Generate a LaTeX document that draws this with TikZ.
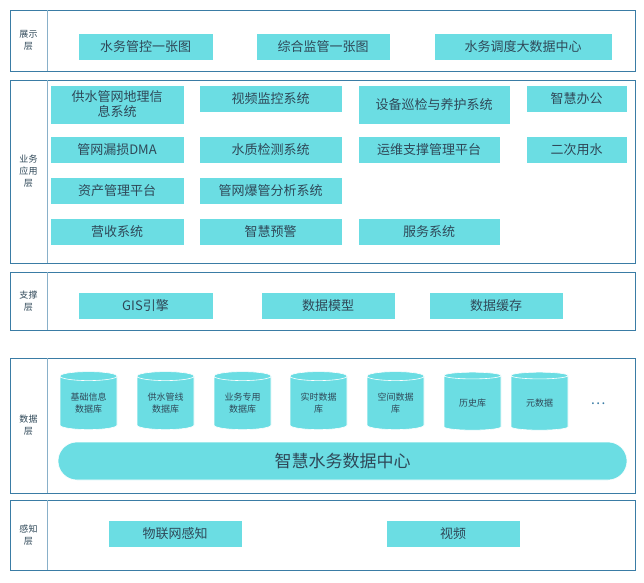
\documentclass[tikz,border=0pt]{standalone}
\usepackage{fontspec}
\newfontfamily\cjk{Noto Sans CJK SC}
\usetikzlibrary{shapes.geometric}
\definecolor{fillc}{HTML}{6BDDE3}
\definecolor{edgec}{HTML}{3A7CA5}
\definecolor{txt}{HTML}{2F4858}
\tikzset{x=1pt,y=-1pt,
 layer/.style={draw=edgec,line width=0.8pt},
 box/.style={fill=fillc,draw=white,line width=0.6pt,text=txt,font=\cjk\fontsize{13}{15}\selectfont,align=center,inner sep=0pt},
 lab/.style={text=txt,font=\cjk\fontsize{9}{12}\selectfont,align=center},
 cyl/.style={cylinder,shape border rotate=90,aspect=0.25,fill=fillc,draw=white,line width=0.6pt,minimum width=57pt,minimum height=58pt,text=txt,font=\cjk\fontsize{9}{12}\selectfont,align=center,inner sep=0pt}}
\newcommand{\bx}[6]{\node[box,minimum width=#4-#2,minimum height=#5-#3] (#1) at ({(#2+#4)/2},{(#3+#5)/2}) {#6};}
\newcommand{\layer}[5]{\draw[layer] (10,#2) rectangle (635,#3); \draw[edgec!60,line width=0.8pt] (47,#2)--(47,#3); \node[lab] (#1) at (28.5,{(#2+#3)/2}) {#4};}
\begin{document}
\begin{tikzpicture}
\useasboundingbox[fill=white] (0,0) rectangle (644,582);
\layer{l1}{10}{71}{展示\\层}{}
\layer{l2}{80}{263}{业务\\应用\\层}{}
\layer{l3}{272}{330}{支撑\\层}{}
\layer{l4}{358}{493}{数据\\层}{}
\layer{l5}{500}{570}{感知\\层}{}
\bx{a1}{78}{33}{213}{60}{水务管控一张图}
\bx{a2}{256}{33}{390}{60}{综合监管一张图}
\bx{a3}{434}{33}{612}{60}{水务调度大数据中心}
\bx{b1}{50}{85}{184}{124}{供水管网地理信\\息系统}
\bx{b2}{199}{85}{342}{112}{视频监控系统}
\bx{b3}{358}{85}{510}{124}{设备巡检与养护系统}
\bx{b4}{526}{85}{627}{112}{智慧办公}
\bx{b5}{50}{136}{184}{163}{管网漏损DMA}
\bx{b6}{199}{136}{342}{163}{水质检测系统}
\bx{b7}{358}{136}{500}{163}{运维支撑管理平台}
\bx{b8}{526}{136}{627}{163}{二次用水}
\bx{b9}{50}{177}{184}{204}{资产管理平台}
\bx{b10}{199}{177}{342}{204}{管网爆管分析系统}
\bx{b11}{50}{218}{184}{245}{营收系统}
\bx{b12}{199}{218}{342}{245}{智慧预警}
\bx{b13}{358}{218}{500}{245}{服务系统}
\bx{c1}{78}{292}{213}{319}{GIS引擎}
\bx{c2}{261}{292}{395}{319}{数据模型}
\bx{c3}{429}{292}{563}{319}{数据缓存}
\node[cyl] (d1) at (88.5,403) {基础信息\\数据库};
\node[cyl] (d2) at (165.5,403) {供水管线\\数据库};
\node[cyl] (d3) at (242.5,403) {业务专用\\数据库};
\node[cyl] (d4) at (318.5,403) {实时数据\\库};
\node[cyl] (d5) at (395.5,403) {空间数据\\库};
\node[cyl] (d6) at (472.5,403) {历史库};
\node[cyl] (d7) at (539.5,403) {元数据};
\node[text=edgec,font=\cjk\fontsize{14}{14}\selectfont] (dots) at (598,404) {…};
\node[box,rounded corners=19pt,minimum width=569pt,minimum height=38pt,font=\cjk\fontsize{17}{19}\selectfont] (dc) at (342.5,461) {智慧水务数据中心};
\bx{e1}{108}{520}{242}{547}{物联网感知}
\bx{e2}{386}{520}{520}{547}{视频}
\end{tikzpicture}
\end{document}
